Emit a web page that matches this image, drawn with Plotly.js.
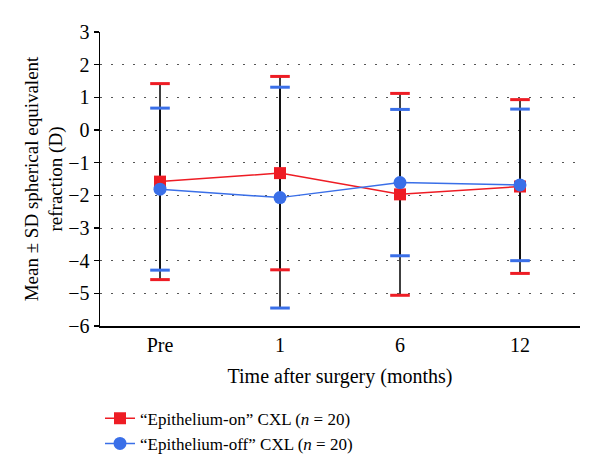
<!DOCTYPE html>
<html>
<head>
<meta charset="utf-8">
<script src="https://cdn.plot.ly/plotly-3.0.1.min.js"></script>
<style>
  html, body { margin: 0; padding: 0; background: #fff; }
  #chart { width: 600px; height: 472px; }
</style>
</head>
<body>
<div id="chart"></div>
<script>
// 時間軸
const timepoints = ['Pre', '1', '6', '12'];

// "Epithelium-on" CXL: 平均と標準偏差
const onMean = [-1.58, -1.32, -1.97, -1.73];
const onSD = [3.00, 2.96, 3.09, 2.66];

// "Epithelium-off" CXL: 平均と標準偏差
const offMean = [-1.81, -2.07, -1.61, -1.68];
const offSD = [2.48, 3.38, 2.24, 2.32];

const RED = '#ee1c24';
const BLUE = '#3a6fe8';
const FONT = 'Liberation Serif, Times New Roman, serif';

const add = (m, s, k) => m.map((v, i) => v + k * s[i]);

// 黒い縦線（エラーバーの軸）
function stemTrace(mean, sd) {
    return {
        x: timepoints, y: mean,
        type: 'scatter', mode: 'markers',
        marker: { opacity: 0, size: 1 },
        error_y: { type: 'data', array: sd, visible: true, color: '#000', thickness: 1.5, width: 0 },
        showlegend: false, hoverinfo: 'skip'
    };
}

// 色付きキャップ
function capTrace(mean, sd, color) {
    return {
        x: timepoints.concat(timepoints),
        y: add(mean, sd, 1).concat(add(mean, sd, -1)),
        type: 'scatter', mode: 'markers',
        marker: { symbol: 'line-ew', size: 14, line: { color: color, width: 3 } },
        showlegend: false, hoverinfo: 'skip'
    };
}

const traces = [
    stemTrace(onMean, onSD),
    stemTrace(offMean, offSD),
    capTrace(onMean, onSD, RED),
    capTrace(offMean, offSD, BLUE),
    {
        x: timepoints, y: onMean,
        type: 'scatter', mode: 'lines+markers',
        name: '“Epithelium-on” CXL (<i>n</i> = 20)',
        line: { color: RED, width: 1.5 },
        marker: { symbol: 'square', size: 12, color: RED }
    },
    {
        x: timepoints, y: offMean,
        type: 'scatter', mode: 'lines+markers',
        name: '“Epithelium-off” CXL (<i>n</i> = 20)',
        line: { color: BLUE, width: 1.5 },
        marker: { symbol: 'circle', size: 13, color: BLUE }
    }
];

const layout = {
    width: 600, height: 472,
    paper_bgcolor: '#fff', plot_bgcolor: '#fff',
    font: { family: FONT, size: 19, color: '#000' },
    margin: { l: 100, r: 20, t: 32, b: 145 },
    xaxis: {
        type: 'category',
        range: [-0.5, 3.5],
        showline: true, linecolor: '#000', linewidth: 1.5,
        showgrid: false, zeroline: false,
        ticks: '',
        tickfont: { family: FONT, size: 20 },
        title: { text: 'Time after surgery (months)', font: { family: FONT, size: 20 }, standoff: 14 }
    },
    yaxis: {
        range: [-6, 3],
        dtick: 1,
        showline: true, linecolor: '#000', linewidth: 1.5,
        ticks: 'outside', ticklen: 5, tickwidth: 1.5, tickcolor: '#000',
        showgrid: true, gridcolor: '#555', gridwidth: 1, griddash: '1.5px,9.5px',
        zeroline: false,
        tickfont: { family: FONT, size: 20 },
        title: { text: 'Mean ± SD spherical equivalent<br>refraction (D)', font: { family: FONT, size: 19 }, standoff: 0 }
    },
    showlegend: true,
    legend: {
        x: 0, xanchor: 'left',
        y: -0.25, yanchor: 'top',
        font: { family: FONT, size: 17 },
        tracegroupgap: 0,
        bgcolor: 'rgba(0,0,0,0)'
    }
};

Plotly.newPlot('chart', traces, layout, { displayModeBar: false, staticPlot: true });
</script>
</body>
</html>
